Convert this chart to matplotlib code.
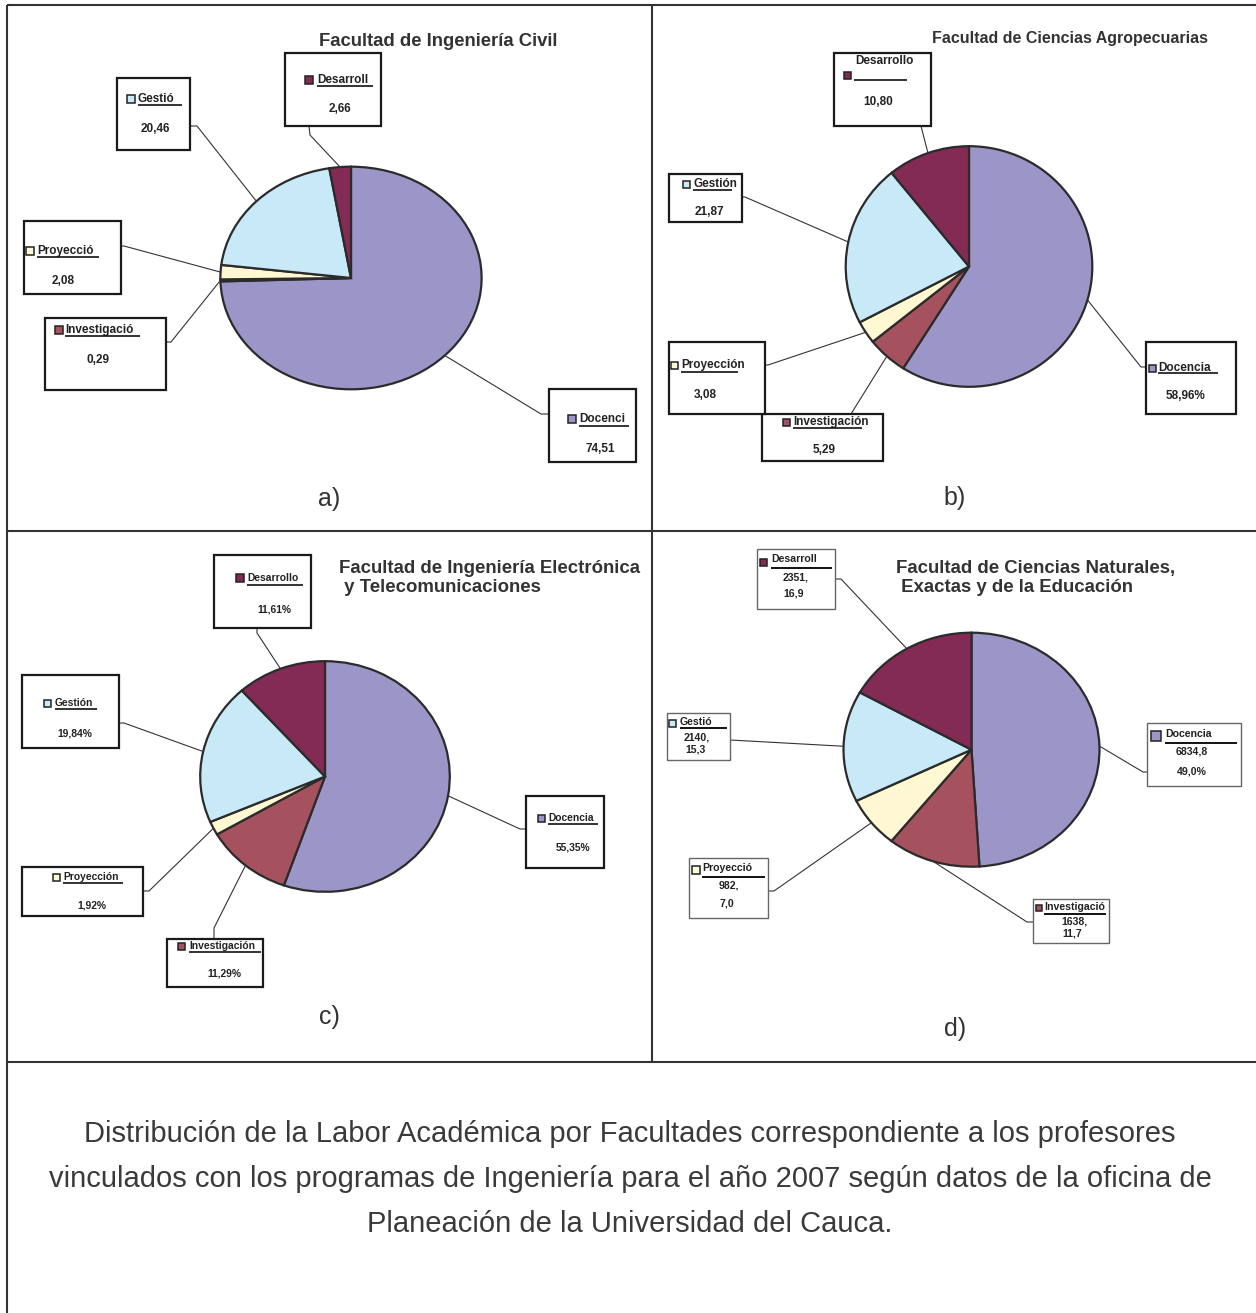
import matplotlib
matplotlib.use('Agg')
import matplotlib.pyplot as plt
from matplotlib.patches import Rectangle
import numpy as np

plt.rcParams['font.family'] = ['Liberation Sans', 'DejaVu Sans']

W, H = 1256, 1313
DARK = '#2B2B2B'
TEXT = '#333333'

# slice order for every faculty
CATEGORIES = ['Docencia', 'Investigación', 'Proyección', 'Gestión', 'Desarrollo']
COLORS = ['#9C96C8', '#A5525E', '#FFF8D2', '#C8E9F8', '#832B55']

# a) Ingenieria Civil
civil_vals = [74.51, 0.29, 2.08, 20.46, 2.66]
civil_heads = ['Docenci', 'Investigació', 'Proyecció', 'Gestió', 'Desarroll']

# b) Ciencias Agropecuarias
agro_vals = [58.96, 5.29, 3.08, 21.87, 10.80]
agro_heads = ['Docencia', 'Investigación', 'Proyección', 'Gestión', 'Desarrollo']

# c) Electronica y Telecomunicaciones
fiet_vals = [55.35, 11.29, 1.92, 19.84, 11.61]
fiet_heads = ['Docencia', 'Investigación', 'Proyección', 'Gestión', 'Desarrollo']

# d) Ciencias Naturales, Exactas y de la Educacion (hours)
exactas_vals = [6834.8, 1638.0, 982.0, 2140.0, 2351.0]
exactas_heads = ['Docencia', 'Investigació', 'Proyecció', 'Gestió', 'Desarroll']

TITLES = ['Facultad de Ingeniería Civil',
          'Facultad de Ciencias Agropecuarias',
          'Facultad de Ingeniería Electrónica\n y Telecomunicaciones',
          'Facultad de Ciencias Naturales,\n Exactas y de la Educación']
PANEL_TAGS = ['a)', 'b)', 'c)', 'd)']
CAPTION = ['Distribución de la Labor Académica por Facultades correspondiente a los profesores',
           'vinculados con los programas de Ingeniería para el año 2007 según datos de la oficina de',
           'Planeación de la Universidad del Cauca.']


def comma(v, nd=2):
    return f"{v:.{nd}f}".replace('.', ',')


civil_txt = [[comma(v)] for v in civil_vals]
agro_txt = [[comma(v) + ('%' if i == 0 else '')] for i, v in enumerate(agro_vals)]
fiet_txt = [[comma(v) + '%'] for v in fiet_vals]
tot = sum(exactas_vals)
exactas_txt = []
for i, v in enumerate(exactas_vals):
    first = comma(v, 1) if i == 0 else f"{int(v)},"
    pct = comma(100 * v / tot, 1) + ('%' if i == 0 else '')
    exactas_txt.append([first, pct])

# ---- layout (pixels, y down) ----
# label spec: box, marker (x, y, size), header (x, y), underline (x0, x1, y), value spots, leader start, elbow
LAYOUT_A = [
    dict(box=(549, 389, 636, 462), mk=(568, 419, 8), hd=(579, 419), ul=(579, 629, 425.5), vp=[(600, 449)], ls=(549, 414), le=(541, 414)),
    dict(box=(45, 318, 166, 390), mk=(55, 330, 8), hd=(65, 330), ul=(65, 140, 336), vp=[(98, 360)], ls=(166, 342), le=(171, 342)),
    dict(box=(24, 221, 121, 294), mk=(26, 251, 8), hd=(37, 251), ul=(37, 99, 257), vp=[(63, 281)], ls=(121, 246), le=(124, 246)),
    dict(box=(117, 78, 190, 150), mk=(127, 99, 8), hd=(138, 99), ul=(138, 182, 104.5), vp=[(155, 129)], ls=(190, 126), le=(197, 126)),
    dict(box=(285, 53, 381, 126), mk=(305, 80, 8), hd=(317, 80), ul=(317, 373, 85.5), vp=[(340, 109)], ls=(309, 126), le=(310, 135)),
]
LAYOUT_B = [
    dict(box=(1146, 342, 1236, 414), mk=(1149, 368, 7), hd=(1158, 368), ul=(1158, 1218, 373), vp=[(1186, 396)], ls=(1146, 367), le=(1141, 367)),
    dict(box=(762, 414, 883, 461), mk=(783, 422, 7), hd=(793, 422), ul=(793, 862, 428), vp=[(824, 450)], ls=(851, 414), le=(851, 414)),
    dict(box=(669, 342, 765, 414), mk=(671, 365, 7), hd=(681, 365), ul=(681, 738, 372), vp=[(705, 395)], ls=(765, 365), le=(768, 365)),
    dict(box=(669, 174, 742, 222), mk=(683, 184, 7), hd=(693, 184), ul=(693, 732, 189.5), vp=[(709, 212)], ls=(742, 197), le=(745, 197)),
    dict(box=(834, 53, 931, 126), mk=(844, 75, 7), hd=(884, 61), ul=(854, 907, 80), vp=[(878, 102)], ls=(921, 126), le=(921, 126), wrap=True),
]
LAYOUT_C = [
    dict(box=(526, 796, 604, 868), mk=(538, 818, 7), hd=(548, 818), ul=(548, 598, 824), vp=[(573, 848)], ls=(526, 829), le=(520, 829)),
    dict(box=(167, 939, 263, 987), mk=(178, 946, 7), hd=(189, 946), ul=(189, 261, 952), vp=[(224, 974)], ls=(214, 939), le=(214, 928)),
    dict(box=(22, 867, 143, 916), mk=(53, 877, 7), hd=(63, 877), ul=(63, 123, 882.5), vp=[(92, 906)], ls=(143, 891), le=(149, 891)),
    dict(box=(22, 675, 119, 748), mk=(44, 703, 7), hd=(55, 703), ul=(55, 97, 708.5), vp=[(75, 733)], ls=(119, 723), le=(124, 723)),
    dict(box=(214, 555, 311, 628), mk=(236, 578, 8), hd=(247, 578), ul=(247, 303, 585), vp=[(274, 609)], ls=(257, 628), le=(257, 633)),
]
LAYOUT_D = [
    dict(box=(1147, 723, 1241, 786), mk=(1151, 736, 10), hd=(1165, 734), ul=(1165, 1237, 743), vp=[(1192, 752), (1192, 771)], ls=(1147, 772), le=(1143, 772)),
    dict(box=(1033, 899, 1109, 943), mk=(1036, 908, 6), hd=(1044, 907), ul=(1044, 1106, 913.5), vp=[(1074, 922), (1072, 934)], ls=(1033, 922), le=(1027, 922)),
    dict(box=(689, 858, 768, 918), mk=(692, 870, 8), hd=(702, 868), ul=(702, 765, 877), vp=[(729, 886), (727, 903)], ls=(768, 891), le=(774, 891)),
    dict(box=(667, 713, 730, 760), mk=(669, 723, 7), hd=(680, 722), ul=(680, 727, 728), vp=[(697, 737), (696, 750)], ls=(730, 740), le=(730, 740)),
    dict(box=(757, 549, 835, 609), mk=(760, 562, 7), hd=(771, 559), ul=(771, 832, 568), vp=[(796, 577), (794, 594)], ls=(835, 579), le=(841, 579)),
]

PANELS = [
    dict(vals=civil_vals, heads=civil_heads, txt=civil_txt, lay=LAYOUT_A, c=(351, 278), r=(130.6, 111.3), fs=8.5,
         title=(438, 42, 13.3, 'center'), tag=(329, 499), thin=False),
    dict(vals=agro_vals, heads=agro_heads, txt=agro_txt, lay=LAYOUT_B, c=(969, 266.5), r=(123.3, 120.3), fs=8.5,
         title=(1070, 39, 11.5, 'center'), tag=(955, 498), thin=False),
    dict(vals=fiet_vals, heads=fiet_heads, txt=fiet_txt, lay=LAYOUT_C, c=(325, 776.5), r=(124.8, 115.3), fs=7.4,
         title=(339, 578, 13.4, 'left'), tag=(329, 1017), thin=False),
    dict(vals=exactas_vals, heads=exactas_heads, txt=exactas_txt, lay=LAYOUT_D, c=(971.5, 749.7), r=(128, 117), fs=7.6,
         title=(896, 578, 13.4, 'left'), tag=(955, 1029), thin=True),
]

fig = plt.figure(figsize=(W / 100, H / 100), dpi=100)
fig.patch.set_facecolor('white')
ov = fig.add_axes([0, 0, 1, 1])
ov.set_xlim(0, W)
ov.set_ylim(H, 0)
ov.axis('off')
ov.set_zorder(3)

PAD = 1.04


def draw_pie(vals, center, radii):
    cx, cy = center
    rx, ry = radii
    pa = fig.add_axes([(cx - rx * PAD) / W, 1 - (cy + ry * PAD) / H, 2 * rx * PAD / W, 2 * ry * PAD / H])
    wedges, _ = pa.pie(vals, colors=COLORS, startangle=90, counterclock=False,
                       wedgeprops=dict(edgecolor=DARK, linewidth=1.6))
    pa.set_aspect('auto')
    pa.set_xlim(-PAD, PAD)
    pa.set_ylim(-PAD, PAD)
    anchors = []
    for w in wedges:
        a = np.deg2rad((w.theta1 + w.theta2) / 2)
        anchors.append((cx + rx * np.cos(a), cy - ry * np.sin(a)))
    return anchors


def draw_label(spec, head, lines, color, anchor, fs, thin):
    x0, y0, x1, y1 = spec['box']
    # leader line first so the box covers its end
    sx, sy = spec['ls']
    ex, ey = spec['le']
    ov.plot([sx, ex, anchor[0]], [sy, ey, anchor[1]], color='#333333', lw=0.8, zorder=2)
    ov.add_patch(Rectangle((x0, y0), x1 - x0, y1 - y0, facecolor='white',
                           edgecolor='#666666' if thin else '#1A1A1A',
                           lw=1.0 if thin else 1.6, zorder=3))
    mx, my, ms = spec['mk']
    ov.add_patch(Rectangle((mx, my - ms / 2), ms, ms, facecolor=color, edgecolor='#222222', lw=1.1, zorder=4))
    hx, hy = spec['hd']
    if spec.get('wrap'):
        ov.text(hx, hy, head, ha='center', va='center', fontsize=fs, fontweight='bold', color='#222222', zorder=5)
    else:
        ov.text(hx, hy, head, ha='left', va='center', fontsize=fs, fontweight='bold', color='#222222', zorder=5)
    u0, u1, uy = spec['ul']
    ov.plot([u0, u1], [uy, uy], color='#111111', lw=1.4 if thin else 1.2, zorder=5, solid_capstyle='butt')
    for (vx, vy), s in zip(spec['vp'], lines):
        ov.text(vx, vy, s, ha='center', va='center', fontsize=fs, fontweight='bold', color='#222222', zorder=5)


for p, title in zip(PANELS, TITLES):
    anchors = draw_pie(p['vals'], p['c'], p['r'])
    for spec, head, lines, color, anc in zip(p['lay'], p['heads'], p['txt'], COLORS, anchors):
        draw_label(spec, head, lines, color, anc, p['fs'], p['thin'])
    tx, ty, tfs, tha = p['title']
    ov.text(tx, ty, title, ha=tha, va='center', fontsize=tfs, fontweight='bold',
            color=TEXT, linespacing=1.15, multialignment='left')

for p, tag in zip(PANELS, PANEL_TAGS):
    ov.text(p['tag'][0], p['tag'][1], tag, ha='center', va='center', fontsize=18, color=TEXT)

for i, line in enumerate(CAPTION):
    ov.text(630, 1134 + 45 * i, line, ha='center', va='center', fontsize=21, color='#3A3A3A')

# table rules
rule = dict(color='#333333', lw=1.5, solid_capstyle='butt', zorder=6)
ov.plot([7, W], [5, 5], **rule)
ov.plot([7, 7], [5, H], **rule)
ov.plot([652, 652], [5, 1062], **rule)
ov.plot([7, W], [531, 531], **rule)
ov.plot([7, W], [1062, 1062], **rule)

fig.savefig('out.png', dpi=100, facecolor='white')
plt.close(fig)
